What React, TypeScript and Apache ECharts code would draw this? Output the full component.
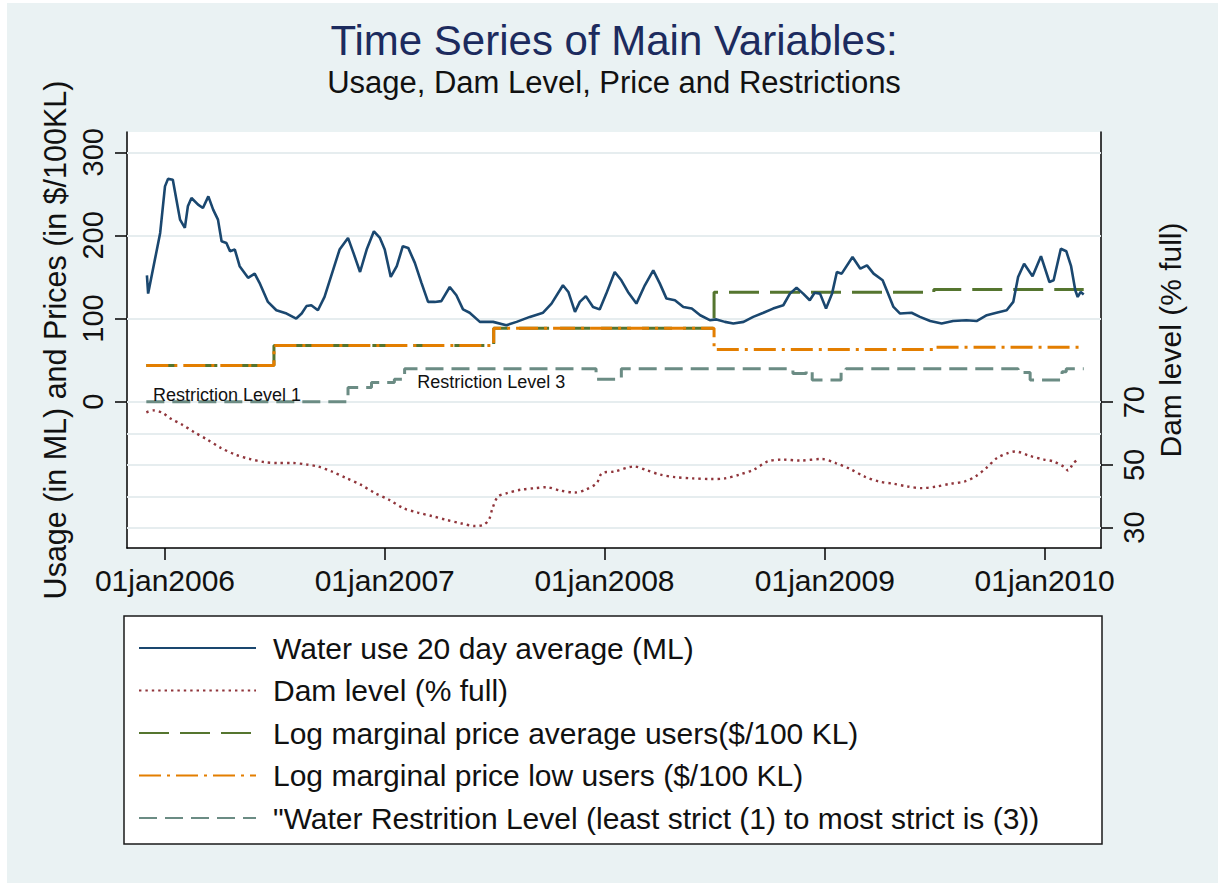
import React, { useEffect, useRef } from "react";
import * as echarts from "echarts";

const FONT = "'Liberation Sans', Arial, Helvetica, sans-serif";
const ts = (s: string) => Date.parse(s + "T00:00:00Z");

// ---------- data ----------
const xTickDates = ["2006-01-01", "2007-01-01", "2008-01-01", "2009-01-01", "2010-01-01"];
const leftTicks = [0, 100, 200, 300];
const rightTicks = [30, 50, 70];
const rightGridValues = [30, 40, 50, 60, 70];

const seriesNames = [
  "Water use 20 day average (ML)",
  "Dam level (% full)",
  "Log marginal price average users($/100 KL)",
  "Log marginal price low users ($/100 KL)",
  "\"Water Restrition Level (least strict (1) to most strict is (3))",
];

const useDates = [
  "2005-12-02","2005-12-04","2005-12-15","2005-12-24","2006-01-01","2006-01-06","2006-01-14","2006-01-20","2006-01-26","2006-02-03",
  "2006-02-08","2006-02-14","2006-02-25","2006-03-05","2006-03-14","2006-03-22","2006-03-30","2006-04-05","2006-04-13","2006-04-19",
  "2006-04-27","2006-05-05","2006-05-19","2006-05-30","2006-06-07","2006-06-21","2006-07-05","2006-07-22","2006-08-07","2006-08-16",
  "2006-08-24","2006-09-01","2006-09-12","2006-09-23","2006-10-07","2006-10-18","2006-11-01","2006-11-10","2006-11-21","2006-12-02",
  "2006-12-14","2006-12-24","2007-01-01","2007-01-11","2007-01-21","2007-01-31","2007-02-09","2007-02-20","2007-03-03","2007-03-14",
  "2007-03-25","2007-04-05","2007-04-19","2007-04-30","2007-05-11","2007-05-22","2007-06-08","2007-06-30","2007-07-22","2007-08-08",
  "2007-08-30","2007-09-21","2007-10-05","2007-10-24","2007-11-02","2007-11-13","2007-11-21","2007-12-01","2007-12-13","2007-12-24",
  "2008-01-04","2008-01-18","2008-01-29","2008-02-09","2008-02-23","2008-03-08","2008-03-22","2008-04-02","2008-04-13","2008-04-27",
  "2008-05-11","2008-05-25","2008-06-08","2008-06-24","2008-07-05","2008-07-19","2008-08-02","2008-08-19","2008-09-04","2008-09-21",
  "2008-10-07","2008-10-24","2008-11-04","2008-11-15","2008-11-26","2008-12-07","2008-12-15","2008-12-24","2009-01-03","2009-01-13",
  "2009-01-21","2009-01-29","2009-02-16","2009-03-01","2009-03-12","2009-03-23","2009-04-07","2009-04-16","2009-04-25","2009-05-06",
  "2009-05-25","2009-06-08","2009-06-25","2009-07-14","2009-08-02","2009-08-24","2009-09-10","2009-09-27","2009-10-13","2009-10-30",
  "2009-11-10","2009-11-18","2009-11-28","2009-12-12","2009-12-26","2010-01-09","2010-01-16","2010-01-28","2010-02-06","2010-02-14",
  "2010-02-21","2010-02-25","2010-03-02","2010-03-07",
];
const useValues = [
  152,130,170,203,259,268,267,243,219,209,
  235,245,237,233,247,231,219,193,191,181,
  183,163,149,154,143,120,110,106,100,106,
  115,116,110,126,158,183,197,179,156,183,
  205,197,183,150,163,187,185,167,143,120,
  120,121,138,128,111,107,96,96,92,96,
  102,107,118,140,132,108,120,127,114,111,
  130,156,146,132,118,140,158,142,124,122,
  114,112,104,98,99,96,94,96,102,107,
  112,116,130,137,130,122,131,130,112,130,
  156,154,174,160,164,154,146,130,114,106,
  107,102,97,94,97,98,97,104,107,110,
  120,150,166,151,175,144,146,184,181,163,
  134,126,132,129,
];

const damDates = [
  "2005-12-01","2005-12-13","2005-12-28","2006-01-11","2006-01-29","2006-02-19","2006-03-12","2006-04-04","2006-04-28","2006-05-22",
  "2006-06-15","2006-07-08","2006-08-01","2006-08-25","2006-09-12","2006-10-05","2006-10-29","2006-11-22","2006-12-16","2007-01-08",
  "2007-02-01","2007-02-25","2007-03-20","2007-04-13","2007-05-07","2007-05-31","2007-06-14","2007-06-23","2007-06-29","2007-07-08",
  "2007-07-23","2007-08-15","2007-09-08","2007-09-26","2007-10-20","2007-11-13","2007-12-01","2007-12-19","2007-12-28","2008-01-17",
  "2008-02-19","2008-03-11","2008-04-03","2008-04-27","2008-05-27","2008-06-26","2008-07-19","2008-08-12","2008-09-05","2008-09-28",
  "2008-10-22","2008-11-21","2008-12-27","2009-01-19","2009-02-12","2009-03-08","2009-04-01","2009-04-25","2009-05-19","2009-06-11",
  "2009-07-05","2009-07-29","2009-08-21","2009-09-08","2009-09-26","2009-10-14","2009-11-01","2009-11-13","2009-12-07","2009-12-31",
  "2010-01-16","2010-02-03","2010-02-09","2010-02-18","2010-02-27",
];
const damValues = [
  66.8,67.4,66.6,64.7,62.9,60.4,58.1,55.4,53.3,51.9,
  50.9,50.6,50.6,50.1,49.5,47.9,45.8,43.7,41.0,38.9,
  36.2,34.8,33.7,32.5,31.4,30.5,30.9,32.5,36.2,39.9,
  41.0,42.1,42.6,42.9,41.8,41.2,42.1,44.2,47.4,47.9,
  49.5,48.3,46.9,46.1,45.7,45.5,45.7,46.9,48.5,51.1,
  51.7,51.4,51.9,50.6,48.7,46.3,44.7,44.0,43.1,42.6,
  43.1,44.0,44.7,46.3,49.0,52.2,53.8,54.3,52.9,51.7,
  51.1,49.3,48.2,50.6,51.9,
];

const priceDates = ["2005-12-01", "2006-07-01", "2007-07-01", "2008-07-01", "2009-07-01", "2010-03-07"];
const priceAverage = [43.5, 67.5, 88.3, 131.7, 135, 135];
const priceLow = [43.5, 67.5, 88.3, 62.7, 65.4, 65.4];

const restrictionDates = [
  "2005-12-01","2006-11-01","2006-12-10","2007-01-17","2007-02-03","2007-12-18","2008-01-29","2008-11-09",
  "2008-12-01","2008-12-11","2009-01-28","2009-02-05","2009-11-18","2009-12-08","2010-01-30","2010-02-06","2010-03-07",
];
const restrictionValues = [0, 17, 23, 27, 39.5, 27, 39.5, 34, 37, 26, 37, 39.5, 35, 26, 36, 39.5, 39.5];

const annotations = [
  { text: "Restriction Level 1", date: "2005-12-12", value: 8 },
  { text: "Restriction Level 3", date: "2007-02-24", value: 24 },
];

// ---------- styles ----------
const C_BLUE = "#1a476f";
const C_MAROON = "#90353b";
const C_GREEN = "#55752f";
const C_ORANGE = "#e37e00";
const C_TEAL = "#6b8c84";
const C_BG = "#eaf2f3";
const C_GRID = "#e6edef";

const pairs = (d: string[], v: number[]) => d.map((s, i) => [ts(s), v[i]]);

export default function App() {
  const ref = useRef<HTMLDivElement>(null);
  useEffect(() => {
    const chart = echarts.init(ref.current!, null, { renderer: "svg" });
    const DAY = 86400000;
    const xMin = ts("2006-01-01") - 63.1 * DAY;
    const xMax = ts("2010-01-01") + 93.7 * DAY;

    const option: any = {
      animation: false,
      backgroundColor: "#ffffff",
      textStyle: { fontFamily: FONT },
      graphic: [
        { type: "rect", z: -10, shape: { x: 7, y: 3, width: 1211, height: 880 }, style: { fill: C_BG } },
        {
          type: "text", x: 614, y: 40, z: 10,
          style: { text: "Time Series of Main Variables:", fill: "#1c2b5e", font: `42px ${FONT}`, textAlign: "center", textVerticalAlign: "middle" },
        },
        {
          type: "text", x: 614, y: 82, z: 10,
          style: { text: "Usage, Dam Level, Price and Restrictions", fill: "#111111", font: `31px ${FONT}`, textAlign: "center", textVerticalAlign: "middle" },
        },
        {
          type: "rect", z: 1, shape: { x: 124, y: 616, width: 978, height: 228 },
          style: { fill: "#ffffff", stroke: "#1a1a1a", lineWidth: 1.5 },
        },
      ],
      grid: { left: 127, top: 132, width: 974, height: 416, show: true, backgroundColor: "#ffffff", borderWidth: 0 },
      legend: {
        data: seriesNames,
        orient: "vertical",
        left: 133,
        top: 628,
        itemWidth: 117,
        itemHeight: 14,
        itemGap: 12.5,
        selectedMode: false,
        itemStyle: { opacity: 0 },
        textStyle: { fontSize: 30, color: "#111111", fontFamily: FONT, padding: [0, 0, 0, 12] },
      },
      xAxis: {
        type: "value",
        min: xMin,
        max: xMax,
        axisLine: { show: true, onZero: false, lineStyle: { color: "#000", width: 1.5 } },
        axisTick: { show: true, length: 12, customValues: xTickDates.map(ts), lineStyle: { color: "#000", width: 1.5 } },
        axisLabel: {
          customValues: xTickDates.map(ts),
          fontSize: 30,
          color: "#111",
          margin: 17,
          formatter: (v: number) => "01jan" + new Date(v).getUTCFullYear(),
        },
        splitLine: { show: false },
      },
      yAxis: [
        {
          type: "value",
          position: "left",
          min: -176,
          max: 324.4,
          name: "Usage (in ML) and Prices (in $/100KL)",
          nameLocation: "middle",
          nameRotate: 90,
          nameGap: 57,
          nameTextStyle: { fontSize: 30.5, color: "#111" },
          axisLine: { show: true, lineStyle: { color: "#000", width: 1.5 } },
          axisTick: { show: true, length: 12, customValues: leftTicks, lineStyle: { color: "#000", width: 1.5 } },
          axisLabel: { customValues: leftTicks, rotate: 90, fontSize: 29, color: "#111", margin: 20 },
          splitLine: { show: false },
        },
        {
          type: "value",
          position: "right",
          min: 23.5,
          max: 156.2,
          name: "Dam level (% full)",
          nameLocation: "middle",
          nameRotate: 90,
          nameGap: 49,
          nameTextStyle: { fontSize: 30, color: "#111" },
          axisLine: { show: true, lineStyle: { color: "#000", width: 1.5 } },
          axisTick: { show: true, length: 12, customValues: rightTicks, lineStyle: { color: "#000", width: 1.5 } },
          axisLabel: { customValues: rightTicks, rotate: 90, fontSize: 29, color: "#111", margin: 18 },
          splitLine: { show: false },
        },
      ],
      series: [
        {
          name: seriesNames[0],
          type: "line",
          z: 6,
          symbol: "none",
          data: pairs(useDates, useValues),
          lineStyle: { color: C_BLUE, width: 2.6 },
          itemStyle: { color: C_BLUE },
        },
        {
          name: seriesNames[1],
          type: "line",
          yAxisIndex: 1,
          z: 4,
          symbol: "none",
          smooth: 0.3,
          data: pairs(damDates, damValues),
          lineStyle: { color: C_MAROON, width: 2.4, type: [2.4, 4] },
          itemStyle: { color: C_MAROON },
          markLine: {
            silent: true,
            z: 1,
            symbol: ["none", "none"],
            label: { show: false },
            lineStyle: { color: C_GRID, width: 1.8, type: "solid" },
            data: rightGridValues.map((v) => ({ yAxis: v })),
          },
        },
        {
          name: seriesNames[2],
          type: "line",
          z: 4,
          symbol: "none",
          step: "end",
          data: pairs(priceDates, priceAverage),
          lineStyle: { color: C_GREEN, width: 3, type: [30, 11] },
          itemStyle: { color: C_GREEN },
        },
        {
          name: seriesNames[3],
          type: "line",
          z: 5,
          symbol: "none",
          step: "end",
          data: pairs(priceDates, priceLow),
          lineStyle: { color: C_ORANGE, width: 3, type: [22, 6, 3, 6] },
          itemStyle: { color: C_ORANGE },
        },
        {
          name: seriesNames[4],
          type: "line",
          z: 4,
          symbol: "none",
          step: "end",
          data: pairs(restrictionDates, restrictionValues),
          lineStyle: { color: C_TEAL, width: 3, type: [18, 8] },
          itemStyle: { color: C_TEAL },
          markLine: {
            silent: true,
            z: 1,
            symbol: ["none", "none"],
            label: { show: false },
            lineStyle: { color: C_GRID, width: 1.8, type: "solid" },
            data: leftTicks.map((v) => ({ yAxis: v })),
          },
          markPoint: {
            silent: true,
            symbol: "circle",
            symbolSize: 0,
            z: 7,
            label: {
              show: true,
              position: "right",
              distance: 0,
              fontSize: 18,
              color: "#111",
              fontFamily: FONT,
              formatter: (p: any) => p.name,
            },
            data: annotations.map((a) => ({ name: a.text, coord: [ts(a.date), a.value] })),
          },
        },
      ],
    };
    chart.setOption(option);
    return () => chart.dispose();
  }, []);
  return <div ref={ref} style={{ position: "fixed", left: 0, top: 0, width: 1218, height: 883 }} />;
}
